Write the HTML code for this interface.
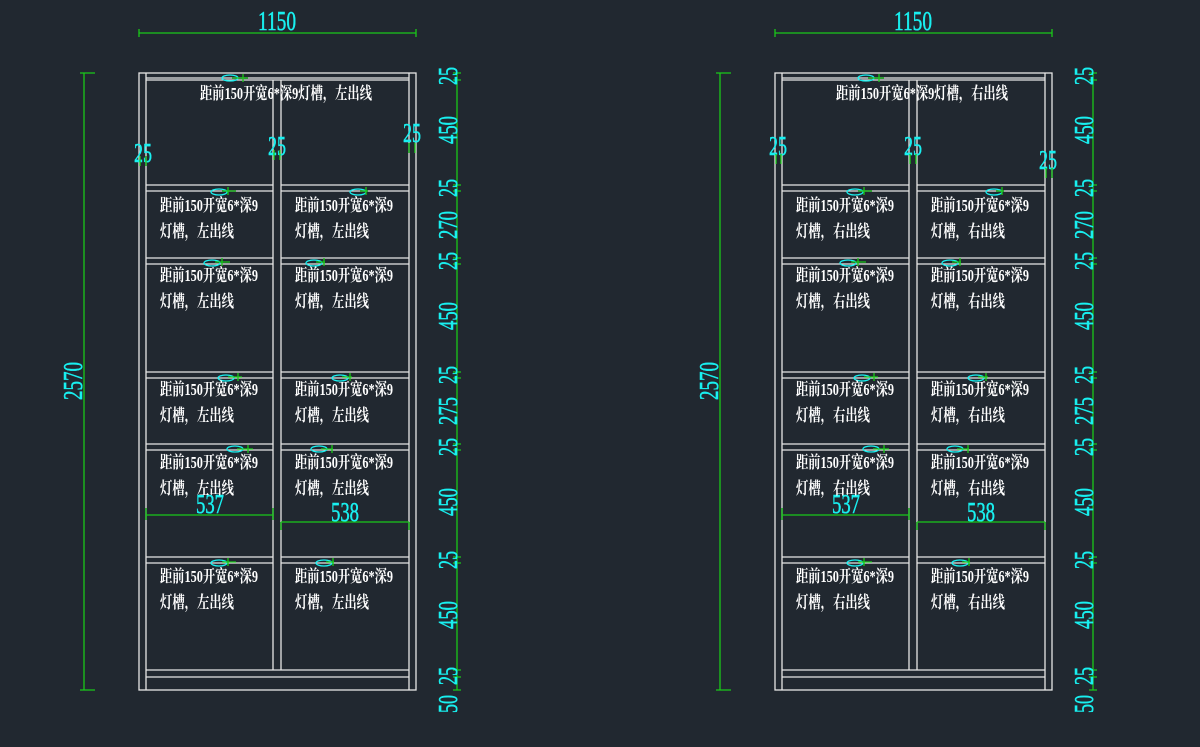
<!DOCTYPE html>
<html><head><meta charset="utf-8"><style>
html,body{margin:0;padding:0;background:#212830;}
svg{display:block}
.w{fill:none;stroke:#e6e6e6;stroke-width:1.3}
.g{stroke:#19c819;stroke-width:1.3;fill:none}
.c{fill:#19f0f0;stroke:#19f0f0;stroke-width:0.5;font-family:"Liberation Serif","Noto Serif CJK SC",serif;font-size:27px}
.t{fill:#ffffff;font-family:"Liberation Serif","Noto Serif CJK SC",serif;font-size:17px;font-weight:bold}
</style></head><body>
<svg width="1200" height="747" viewBox="0 0 1200 747" xmlns="http://www.w3.org/2000/svg">
<defs>
<g id="cab">
<rect class="w" x="139" y="73" width="277" height="617"/>
<line class="w" x1="146" y1="73" x2="146" y2="690"/>
<line class="w" x1="409" y1="73" x2="409" y2="690"/>
<line class="w" x1="146" y1="78" x2="409" y2="78"/>
<line class="w" x1="146" y1="80" x2="409" y2="80"/>
<line class="w" x1="273" y1="80" x2="273" y2="670"/>
<line class="w" x1="281" y1="80" x2="281" y2="670"/>
<g class="w">
<path d="M146 185H273M146 191H273M281 185H409M281 191H409"/>
<path d="M146 258H273M146 264H273M281 258H409M281 264H409"/>
<path d="M146 372H273M146 378H273M281 372H409M281 378H409"/>
<path d="M146 444H273M146 450H273M281 444H409M281 450H409"/>
<path d="M146 557H273M146 563H273M281 557H409M281 563H409"/>
<path d="M146 670H409M146 677H409"/>
</g>
<path class="g" d="M139 29V37M139 33H416M416 29V37"/>
<text class="c" x="277" y="30" text-anchor="middle" textLength="38" lengthAdjust="spacingAndGlyphs">1150</text>
<path class="g" d="M80 73H95M84 73V690M80 690H95"/>
<text class="c" transform="translate(82,381) rotate(-90)" text-anchor="middle" textLength="38" lengthAdjust="spacingAndGlyphs">2570</text>
<path class="g" d="M457 73V690"/>
<g class="g"><path d="M453 73H461M453 80H461M453 185H461M453 191H461M453 258H461M453 264H461M453 372H461M453 378H461M453 444H461M453 450H461M453 557H461M453 563H461M453 670H461M453 677H461M453 690H461"/></g>
<g class="c">
<text transform="translate(457,76) rotate(-90)" text-anchor="middle" textLength="18" lengthAdjust="spacingAndGlyphs">25</text>
<text transform="translate(457,130) rotate(-90)" text-anchor="middle" textLength="28" lengthAdjust="spacingAndGlyphs">450</text>
<text transform="translate(457,188) rotate(-90)" text-anchor="middle" textLength="18" lengthAdjust="spacingAndGlyphs">25</text>
<text transform="translate(457,225) rotate(-90)" text-anchor="middle" textLength="28" lengthAdjust="spacingAndGlyphs">270</text>
<text transform="translate(457,261) rotate(-90)" text-anchor="middle" textLength="18" lengthAdjust="spacingAndGlyphs">25</text>
<text transform="translate(457,316) rotate(-90)" text-anchor="middle" textLength="28" lengthAdjust="spacingAndGlyphs">450</text>
<text transform="translate(457,375) rotate(-90)" text-anchor="middle" textLength="18" lengthAdjust="spacingAndGlyphs">25</text>
<text transform="translate(457,411) rotate(-90)" text-anchor="middle" textLength="28" lengthAdjust="spacingAndGlyphs">275</text>
<text transform="translate(457,447) rotate(-90)" text-anchor="middle" textLength="18" lengthAdjust="spacingAndGlyphs">25</text>
<text transform="translate(457,502) rotate(-90)" text-anchor="middle" textLength="28" lengthAdjust="spacingAndGlyphs">450</text>
<text transform="translate(457,560) rotate(-90)" text-anchor="middle" textLength="18" lengthAdjust="spacingAndGlyphs">25</text>
<text transform="translate(457,615) rotate(-90)" text-anchor="middle" textLength="28" lengthAdjust="spacingAndGlyphs">450</text>
<text transform="translate(457,676) rotate(-90)" text-anchor="middle" textLength="18" lengthAdjust="spacingAndGlyphs">25</text>
<text transform="translate(457,704) rotate(-90)" text-anchor="middle" textLength="18" lengthAdjust="spacingAndGlyphs">50</text>
</g>
<path class="g" d="M146 508V520M146 515H273M273 508V520"/>
<text class="c" x="210" y="513" text-anchor="middle" textLength="28" lengthAdjust="spacingAndGlyphs">537</text>
<path class="g" d="M281 522V530M281 522H409M409 522V530"/>
<text class="c" x="345" y="521" text-anchor="middle" textLength="28" lengthAdjust="spacingAndGlyphs">538</text>
<g>
<ellipse cx="230" cy="78" rx="8" ry="3" fill="none" stroke="#19f0f0" stroke-width="1.3"/><path class="g" d="M232 78H248M243 74V82"/>
<ellipse cx="219" cy="192" rx="8" ry="3" fill="none" stroke="#19f0f0" stroke-width="1.3"/><path class="g" d="M222 191H236M228 187V195"/>
<ellipse cx="358" cy="192" rx="8" ry="3" fill="none" stroke="#19f0f0" stroke-width="1.3"/><path class="g" d="M360 191H368M366 187V195"/>
<ellipse cx="212" cy="263" rx="8" ry="3" fill="none" stroke="#19f0f0" stroke-width="1.3"/><path class="g" d="M215 262H230M222 258V266"/>
<ellipse cx="314" cy="263" rx="8" ry="3" fill="none" stroke="#19f0f0" stroke-width="1.3"/><path class="g" d="M316 262H325M324 258V266"/>
<ellipse cx="226" cy="378" rx="8" ry="3" fill="none" stroke="#19f0f0" stroke-width="1.3"/><path class="g" d="M228 377H242M238 373V381"/>
<ellipse cx="340" cy="378" rx="8" ry="3" fill="none" stroke="#19f0f0" stroke-width="1.3"/><path class="g" d="M342 377H352M350 373V381"/>
<ellipse cx="235" cy="449" rx="8" ry="3" fill="none" stroke="#19f0f0" stroke-width="1.3"/><path class="g" d="M237 449H253M248 445V453"/>
<ellipse cx="319" cy="449" rx="8" ry="3" fill="none" stroke="#19f0f0" stroke-width="1.3"/><path class="g" d="M321 449H333M332 445V453"/>
<ellipse cx="219" cy="563" rx="8" ry="3" fill="none" stroke="#19f0f0" stroke-width="1.3"/><path class="g" d="M222 562H236M228 558V566"/>
<ellipse cx="324" cy="563" rx="8" ry="3" fill="none" stroke="#19f0f0" stroke-width="1.3"/><path class="g" d="M326 562H334M333 558V566"/>
</g>
</g>
</defs>

<use href="#cab"/>
<use href="#cab" transform="translate(636,0)"/>

<g class="t">
<text x="200" y="99" textLength="172" lengthAdjust="spacingAndGlyphs">距前150开宽6*深9灯槽，左出线</text>
<text x="160" y="211" textLength="98" lengthAdjust="spacingAndGlyphs">距前150开宽6*深9</text>
<text x="160" y="237" textLength="74" lengthAdjust="spacingAndGlyphs">灯槽，左出线</text>
<text x="295" y="211" textLength="98" lengthAdjust="spacingAndGlyphs">距前150开宽6*深9</text>
<text x="295" y="237" textLength="74" lengthAdjust="spacingAndGlyphs">灯槽，左出线</text>
<text x="160" y="281" textLength="98" lengthAdjust="spacingAndGlyphs">距前150开宽6*深9</text>
<text x="160" y="307" textLength="74" lengthAdjust="spacingAndGlyphs">灯槽，左出线</text>
<text x="295" y="281" textLength="98" lengthAdjust="spacingAndGlyphs">距前150开宽6*深9</text>
<text x="295" y="307" textLength="74" lengthAdjust="spacingAndGlyphs">灯槽，左出线</text>
<text x="160" y="395" textLength="98" lengthAdjust="spacingAndGlyphs">距前150开宽6*深9</text>
<text x="160" y="421" textLength="74" lengthAdjust="spacingAndGlyphs">灯槽，左出线</text>
<text x="295" y="395" textLength="98" lengthAdjust="spacingAndGlyphs">距前150开宽6*深9</text>
<text x="295" y="421" textLength="74" lengthAdjust="spacingAndGlyphs">灯槽，左出线</text>
<text x="160" y="468" textLength="98" lengthAdjust="spacingAndGlyphs">距前150开宽6*深9</text>
<text x="160" y="494" textLength="74" lengthAdjust="spacingAndGlyphs">灯槽，左出线</text>
<text x="295" y="468" textLength="98" lengthAdjust="spacingAndGlyphs">距前150开宽6*深9</text>
<text x="295" y="494" textLength="74" lengthAdjust="spacingAndGlyphs">灯槽，左出线</text>
<text x="160" y="582" textLength="98" lengthAdjust="spacingAndGlyphs">距前150开宽6*深9</text>
<text x="160" y="608" textLength="74" lengthAdjust="spacingAndGlyphs">灯槽，左出线</text>
<text x="295" y="582" textLength="98" lengthAdjust="spacingAndGlyphs">距前150开宽6*深9</text>
<text x="295" y="608" textLength="74" lengthAdjust="spacingAndGlyphs">灯槽，左出线</text>
</g>
<g class="c">
<text x="143" y="162" text-anchor="middle" textLength="18" lengthAdjust="spacingAndGlyphs">25</text>
<text x="277" y="155" text-anchor="middle" textLength="18" lengthAdjust="spacingAndGlyphs">25</text>
<text x="412" y="142" text-anchor="middle" textLength="18" lengthAdjust="spacingAndGlyphs">25</text>
</g>
<path class="g" d="M140 156V166M146 156V166M274 150V160M280 150V160M409 143V153M415 143V153"/>

<g class="t" transform="translate(636,0)">
<text x="200" y="99" textLength="172" lengthAdjust="spacingAndGlyphs">距前150开宽6*深9灯槽，右出线</text>
<text x="160" y="211" textLength="98" lengthAdjust="spacingAndGlyphs">距前150开宽6*深9</text>
<text x="160" y="237" textLength="74" lengthAdjust="spacingAndGlyphs">灯槽，右出线</text>
<text x="295" y="211" textLength="98" lengthAdjust="spacingAndGlyphs">距前150开宽6*深9</text>
<text x="295" y="237" textLength="74" lengthAdjust="spacingAndGlyphs">灯槽，右出线</text>
<text x="160" y="281" textLength="98" lengthAdjust="spacingAndGlyphs">距前150开宽6*深9</text>
<text x="160" y="307" textLength="74" lengthAdjust="spacingAndGlyphs">灯槽，右出线</text>
<text x="295" y="281" textLength="98" lengthAdjust="spacingAndGlyphs">距前150开宽6*深9</text>
<text x="295" y="307" textLength="74" lengthAdjust="spacingAndGlyphs">灯槽，右出线</text>
<text x="160" y="395" textLength="98" lengthAdjust="spacingAndGlyphs">距前150开宽6*深9</text>
<text x="160" y="421" textLength="74" lengthAdjust="spacingAndGlyphs">灯槽，右出线</text>
<text x="295" y="395" textLength="98" lengthAdjust="spacingAndGlyphs">距前150开宽6*深9</text>
<text x="295" y="421" textLength="74" lengthAdjust="spacingAndGlyphs">灯槽，右出线</text>
<text x="160" y="468" textLength="98" lengthAdjust="spacingAndGlyphs">距前150开宽6*深9</text>
<text x="160" y="494" textLength="74" lengthAdjust="spacingAndGlyphs">灯槽，右出线</text>
<text x="295" y="468" textLength="98" lengthAdjust="spacingAndGlyphs">距前150开宽6*深9</text>
<text x="295" y="494" textLength="74" lengthAdjust="spacingAndGlyphs">灯槽，右出线</text>
<text x="160" y="582" textLength="98" lengthAdjust="spacingAndGlyphs">距前150开宽6*深9</text>
<text x="160" y="608" textLength="74" lengthAdjust="spacingAndGlyphs">灯槽，右出线</text>
<text x="295" y="582" textLength="98" lengthAdjust="spacingAndGlyphs">距前150开宽6*深9</text>
<text x="295" y="608" textLength="74" lengthAdjust="spacingAndGlyphs">灯槽，右出线</text>
</g>
<g class="c">
<text x="778" y="155" text-anchor="middle" textLength="18" lengthAdjust="spacingAndGlyphs">25</text>
<text x="913" y="155" text-anchor="middle" textLength="18" lengthAdjust="spacingAndGlyphs">25</text>
<text x="1048" y="169" text-anchor="middle" textLength="18" lengthAdjust="spacingAndGlyphs">25</text>
</g>
<path class="g" d="M776 154V164M781 154V164M910 154V164M916 154V164M1046 168V178M1052 168V178"/>
</svg>
</body></html>
